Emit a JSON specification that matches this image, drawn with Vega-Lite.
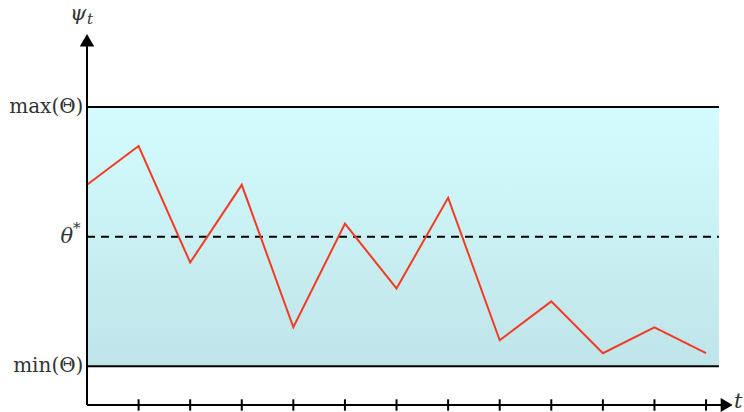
{
  "$schema": "https://vega.github.io/schema/vega-lite/v6.json",
  "width": 650,
  "height": 373,
  "autosize": {"type": "none"},
  "padding": {"left": 87, "top": 32, "right": 7, "bottom": 7},
  "background": "white",
  "config": {"view": {"stroke": null}},
  "datasets": {
    "band": [{"t": 0, "t2": 12.25, "v": 0, "v2": 10}],
    "bounds": [{"t": 0, "t2": 12.25, "v": 10}, {"t": 0, "t2": 12.25, "v": 0}],
    "opt": [{"t": 0, "t2": 12.25, "v": 5}],
    "psi": [
      {"t": 0, "v": 7}, {"t": 1, "v": 8.5}, {"t": 2, "v": 4}, {"t": 3, "v": 7},
      {"t": 4, "v": 1.5}, {"t": 5, "v": 5.5}, {"t": 6, "v": 3}, {"t": 7, "v": 6.5},
      {"t": 8, "v": 1}, {"t": 9, "v": 2.5}, {"t": 10, "v": 0.5}, {"t": 11, "v": 1.5},
      {"t": 12, "v": 0.5}
    ],
    "yaxis": [{"t": 0, "v": -1.5, "v2": 12.4}],
    "xaxis": [{"t": 0, "t2": 12.3, "v": -1.5}],
    "ticks": [
      {"t": 1, "v": -1.72, "v2": -1.28}, {"t": 2, "v": -1.72, "v2": -1.28},
      {"t": 3, "v": -1.72, "v2": -1.28}, {"t": 4, "v": -1.72, "v2": -1.28},
      {"t": 5, "v": -1.72, "v2": -1.28}, {"t": 6, "v": -1.72, "v2": -1.28},
      {"t": 7, "v": -1.72, "v2": -1.28}, {"t": 8, "v": -1.72, "v2": -1.28},
      {"t": 9, "v": -1.72, "v2": -1.28}, {"t": 10, "v": -1.72, "v2": -1.28},
      {"t": 11, "v": -1.72, "v2": -1.28}, {"t": 12, "v": -1.72, "v2": -1.28}
    ],
    "uparrow": [{"t": 0, "v": 12.58}],
    "rightarrow": [{"t": 12.4, "v": -1.5}],
    "leftlabels": [
      {"t": -0.07, "v": 10, "label": "max(Θ)"},
      {"t": -0.07, "v": 0, "label": "min(Θ)"}
    ],
    "thetalabel": [{"t": -0.27, "v": 5, "label": "θ"}],
    "starlabel": [{"t": -0.27, "v": 5.35, "label": "*"}],
    "psilabel": [{"t": -0.33, "v": 13.6, "label": "ψ"}],
    "psisub": [{"t": 0.0, "v": 13.4, "label": "t"}],
    "tlabel": [{"t": 12.54, "v": -1.4, "label": "t"}]
  },
  "layer": [
    {
      "data": {"name": "band"},
      "mark": {
        "type": "rect",
        "fill": {
          "gradient": "linear", "x1": 0, "y1": 0, "x2": 0, "y2": 1,
          "stops": [{"offset": 0, "color": "#d4fcfe"}, {"offset": 1, "color": "#bfe4e9"}]
        }
      },
      "encoding": {
        "x": {"field": "t", "type": "quantitative", "scale": {"domain": [0, 12.6], "nice": false, "zero": false}, "axis": null},
        "x2": {"field": "t2"},
        "y": {"field": "v", "type": "quantitative", "scale": {"domain": [-1.5, 12.9], "nice": false, "zero": false}, "axis": null},
        "y2": {"field": "v2"}
      }
    },
    {
      "data": {"name": "bounds"},
      "mark": {"type": "rule", "color": "black", "strokeWidth": 2},
      "encoding": {
        "x": {"field": "t", "type": "quantitative", "scale": {"domain": [0, 12.6], "nice": false, "zero": false}, "axis": null},
        "x2": {"field": "t2"},
        "y": {"field": "v", "type": "quantitative", "scale": {"domain": [-1.5, 12.9], "nice": false, "zero": false}, "axis": null}
      }
    },
    {
      "data": {"name": "opt"},
      "mark": {"type": "rule", "color": "black", "strokeWidth": 2, "strokeDash": [8, 6]},
      "encoding": {
        "x": {"field": "t", "type": "quantitative", "scale": {"domain": [0, 12.6], "nice": false, "zero": false}, "axis": null},
        "x2": {"field": "t2"},
        "y": {"field": "v", "type": "quantitative", "scale": {"domain": [-1.5, 12.9], "nice": false, "zero": false}, "axis": null}
      }
    },
    {
      "data": {"name": "psi"},
      "mark": {"type": "line", "color": "#f53a22", "strokeWidth": 2},
      "encoding": {
        "x": {"field": "t", "type": "quantitative", "scale": {"domain": [0, 12.6], "nice": false, "zero": false}, "axis": null},
        "y": {"field": "v", "type": "quantitative", "scale": {"domain": [-1.5, 12.9], "nice": false, "zero": false}, "axis": null}
      }
    },
    {
      "data": {"name": "yaxis"},
      "mark": {"type": "rule", "color": "black", "strokeWidth": 2},
      "encoding": {
        "x": {"field": "t", "type": "quantitative", "scale": {"domain": [0, 12.6], "nice": false, "zero": false}, "axis": null},
        "y": {"field": "v", "type": "quantitative", "scale": {"domain": [-1.5, 12.9], "nice": false, "zero": false}, "axis": null},
        "y2": {"field": "v2"}
      }
    },
    {
      "data": {"name": "xaxis"},
      "mark": {"type": "rule", "color": "black", "strokeWidth": 2},
      "encoding": {
        "x": {"field": "t", "type": "quantitative", "scale": {"domain": [0, 12.6], "nice": false, "zero": false}, "axis": null},
        "x2": {"field": "t2"},
        "y": {"field": "v", "type": "quantitative", "scale": {"domain": [-1.5, 12.9], "nice": false, "zero": false}, "axis": null}
      }
    },
    {
      "data": {"name": "ticks"},
      "mark": {"type": "rule", "color": "black", "strokeWidth": 2},
      "encoding": {
        "x": {"field": "t", "type": "quantitative", "scale": {"domain": [0, 12.6], "nice": false, "zero": false}, "axis": null},
        "y": {"field": "v", "type": "quantitative", "scale": {"domain": [-1.5, 12.9], "nice": false, "zero": false}, "axis": null},
        "y2": {"field": "v2"}
      }
    },
    {
      "data": {"name": "uparrow"},
      "mark": {"type": "point", "shape": "triangle-up", "filled": true, "color": "black", "size": 210, "opacity": 1},
      "encoding": {
        "x": {"field": "t", "type": "quantitative", "scale": {"domain": [0, 12.6], "nice": false, "zero": false}, "axis": null},
        "y": {"field": "v", "type": "quantitative", "scale": {"domain": [-1.5, 12.9], "nice": false, "zero": false}, "axis": null}
      }
    },
    {
      "data": {"name": "rightarrow"},
      "mark": {"type": "point", "shape": "triangle-right", "filled": true, "color": "black", "size": 190, "opacity": 1},
      "encoding": {
        "x": {"field": "t", "type": "quantitative", "scale": {"domain": [0, 12.6], "nice": false, "zero": false}, "axis": null},
        "y": {"field": "v", "type": "quantitative", "scale": {"domain": [-1.5, 12.9], "nice": false, "zero": false}, "axis": null}
      }
    },
    {
      "data": {"name": "leftlabels"},
      "mark": {"type": "text", "align": "right", "baseline": "middle", "font": "DejaVu Serif", "fontSize": 20, "color": "#333333"},
      "encoding": {
        "x": {"field": "t", "type": "quantitative", "scale": {"domain": [0, 12.6], "nice": false, "zero": false}, "axis": null},
        "y": {"field": "v", "type": "quantitative", "scale": {"domain": [-1.5, 12.9], "nice": false, "zero": false}, "axis": null},
        "text": {"field": "label"}
      }
    },
    {
      "data": {"name": "thetalabel"},
      "mark": {"type": "text", "align": "right", "baseline": "middle", "font": "DejaVu Serif", "fontStyle": "italic", "fontSize": 21, "color": "#333333"},
      "encoding": {
        "x": {"field": "t", "type": "quantitative", "scale": {"domain": [0, 12.6], "nice": false, "zero": false}, "axis": null},
        "y": {"field": "v", "type": "quantitative", "scale": {"domain": [-1.5, 12.9], "nice": false, "zero": false}, "axis": null},
        "text": {"field": "label"}
      }
    },
    {
      "data": {"name": "starlabel"},
      "mark": {"type": "text", "align": "left", "baseline": "middle", "font": "DejaVu Serif", "fontSize": 15, "color": "#333333"},
      "encoding": {
        "x": {"field": "t", "type": "quantitative", "scale": {"domain": [0, 12.6], "nice": false, "zero": false}, "axis": null},
        "y": {"field": "v", "type": "quantitative", "scale": {"domain": [-1.5, 12.9], "nice": false, "zero": false}, "axis": null},
        "text": {"field": "label"}
      }
    },
    {
      "data": {"name": "psilabel"},
      "mark": {"type": "text", "align": "left", "baseline": "middle", "font": "DejaVu Serif", "fontStyle": "italic", "fontSize": 21, "color": "#333333"},
      "encoding": {
        "x": {"field": "t", "type": "quantitative", "scale": {"domain": [0, 12.6], "nice": false, "zero": false}, "axis": null},
        "y": {"field": "v", "type": "quantitative", "scale": {"domain": [-1.5, 12.9], "nice": false, "zero": false}, "axis": null},
        "text": {"field": "label"}
      }
    },
    {
      "data": {"name": "psisub"},
      "mark": {"type": "text", "align": "left", "baseline": "middle", "font": "DejaVu Serif", "fontStyle": "italic", "fontSize": 15, "color": "#333333"},
      "encoding": {
        "x": {"field": "t", "type": "quantitative", "scale": {"domain": [0, 12.6], "nice": false, "zero": false}, "axis": null},
        "y": {"field": "v", "type": "quantitative", "scale": {"domain": [-1.5, 12.9], "nice": false, "zero": false}, "axis": null},
        "text": {"field": "label"}
      }
    },
    {
      "data": {"name": "tlabel"},
      "mark": {"type": "text", "align": "left", "baseline": "middle", "font": "DejaVu Serif", "fontStyle": "italic", "fontSize": 21, "color": "#333333"},
      "encoding": {
        "x": {"field": "t", "type": "quantitative", "scale": {"domain": [0, 12.6], "nice": false, "zero": false}, "axis": null},
        "y": {"field": "v", "type": "quantitative", "scale": {"domain": [-1.5, 12.9], "nice": false, "zero": false}, "axis": null},
        "text": {"field": "label"}
      }
    }
  ]
}
